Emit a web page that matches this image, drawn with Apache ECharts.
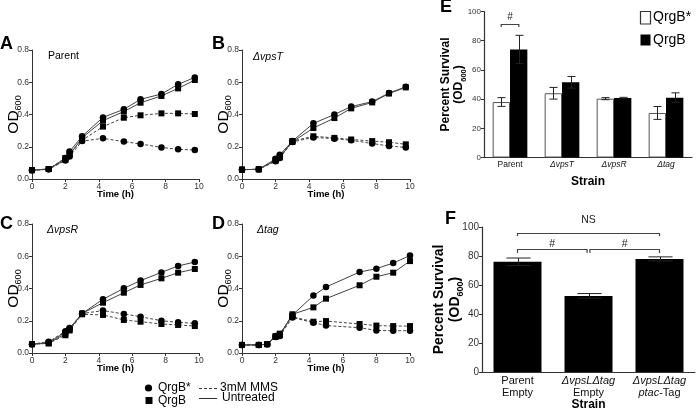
<!DOCTYPE html>
<html><head><meta charset="utf-8">
<script src="https://cdn.jsdelivr.net/npm/echarts@6/dist/echarts.min.js"></script>
<style>html,body{margin:0;padding:0;background:#fff}#c{width:696px;height:414px}</style>
</head><body><div id="c"></div>
<script>
// ---------- data ----------
const timeABC = [0, 1, 2, 2.25, 3, 4.25, 5.5, 6.5, 7.75, 8.75, 9.75];
const timeD = [0, 1, 1.5, 2, 2.25, 3, 4.25, 5, 7, 8, 9, 10];

// Panel A (Parent)
const A_starU = [0.055, 0.06, 0.13, 0.17, 0.265, 0.382, 0.432, 0.494, 0.527, 0.587, 0.63];
const A_qU    = [0.055, 0.062, 0.12, 0.15, 0.255, 0.362, 0.418, 0.473, 0.515, 0.562, 0.614];
const A_starM = [0.055, 0.06, 0.115, 0.14, 0.235, 0.252, 0.232, 0.217, 0.196, 0.184, 0.18];
const A_qM    = [0.055, 0.062, 0.13, 0.16, 0.24, 0.325, 0.38, 0.395, 0.407, 0.407, 0.403];
// Panel B (ΔvpsT)
const B_starU = [0.058, 0.06, 0.125, 0.15, 0.235, 0.345, 0.40, 0.449, 0.48, 0.533, 0.572];
const B_qU    = [0.058, 0.06, 0.115, 0.135, 0.23, 0.316, 0.378, 0.438, 0.475, 0.53, 0.568];
const B_starM = [0.058, 0.06, 0.11, 0.13, 0.23, 0.258, 0.25, 0.24, 0.22, 0.205, 0.195];
const B_qM    = [0.058, 0.06, 0.12, 0.14, 0.235, 0.265, 0.255, 0.245, 0.235, 0.228, 0.215];
// Panel C (ΔvpsR)
const C_starU = [0.055, 0.065, 0.13, 0.15, 0.245, 0.333, 0.401, 0.449, 0.50, 0.54, 0.564];
const C_qU    = [0.055, 0.06, 0.12, 0.145, 0.245, 0.312, 0.374, 0.422, 0.463, 0.498, 0.521];
const C_starM = [0.055, 0.07, 0.135, 0.155, 0.245, 0.263, 0.242, 0.225, 0.20, 0.19, 0.184];
const C_qM    = [0.055, 0.06, 0.11, 0.14, 0.24, 0.236, 0.205, 0.194, 0.18, 0.174, 0.167];
// Panel D (Δtag)
const D_starU = [0.05, 0.05, 0.055, 0.105, 0.115, 0.235, 0.356, 0.409, 0.502, 0.523, 0.558, 0.604];
const D_qU    = [0.05, 0.05, 0.055, 0.10, 0.11, 0.24, 0.283, 0.337, 0.42, 0.473, 0.498, 0.57];
const D_starM = [0.05, 0.05, 0.055, 0.10, 0.105, 0.22, 0.188, 0.17, 0.157, 0.14, 0.138, 0.138];
const D_qM    = [0.05, 0.05, 0.055, 0.105, 0.12, 0.225, 0.194, 0.198, 0.18, 0.17, 0.167, 0.167];

const odTicks = [0, 0.2, 0.4, 0.6, 0.8];
const timeTicks = [0, 2, 4, 6, 8, 10];
const pctTicks = [0, 20, 40, 60, 80, 100];

// Panel E
const E_cats = ['Parent', 'ΔvpsT', 'ΔvpsR', 'Δtag'];
const E_star = [38, 44, 40.3, 30.5];
const E_starErr = [3, 4, 0.7, 4.4];
const E_q = [74, 51.5, 40.7, 41];
const E_qErr = [9.7, 4, 0.5, 3.3];
// bracket: [catFrom, offFrom, catTo, offTo, value, legEndValue, labelValue]
const E_brackets = [[0, -0.17, 0, 0.17, 91.6, 89.3, 96]];
const E_bracketLabels = ['#'];

// Panel F
const F_cats = ['Parent Empty', 'ΔvpsLΔtag Empty', 'ΔvpsLΔtag ptac-Tag'];
const F_vals = [76, 52.5, 78];
const F_err = [2.6, 1.6, 1.4];
const F_brackets = [[0, 0, 2, 0, 96.1, 93.8, 104.8], [0, 0, 1, -0.02, 84.6, 82, 88.3], [1, 0.02, 2, 0, 84.6, 82, 88.3]];
const F_bracketLabels = ['NS', '#', '#'];

// ---------- chart ----------
const FONT = 'Liberation Sans, Arial, Helvetica, sans-serif';
const AX = '#333';
const chart = echarts.init(document.getElementById('c'));

const lineGrids = [
  {left: 32, top: 50, width: 167, height: 129},
  {left: 242, top: 50, width: 168, height: 129},
  {left: 32, top: 224, width: 167, height: 129},
  {left: 242, top: 224, width: 168, height: 129}
];
const grids = lineGrids.concat([
  {left: 484, top: 11.5, width: 208, height: 146},
  {left: 482, top: 227, width: 213, height: 145}
]);

const odName = {
  name: '{a|OD}{b|600}', nameLocation: 'middle', nameRotate: 90, nameGap: 9, nameMoveOverlap: false,
  nameTextStyle: {rich: {
    a: {fontSize: 15.5, fontFamily: FONT, color: '#000', lineHeight: 17, verticalAlign: 'top'},
    b: {fontSize: 9, fontFamily: FONT, color: '#000', lineHeight: 9, padding: [9, 0, 0, 0], verticalAlign: 'bottom'}
  }}
};

const xAxes = [], yAxes = [];
for (let k = 0; k < 4; k++) {
  xAxes.push({
    type: 'value', gridIndex: k, min: timeTicks[0], max: timeTicks[timeTicks.length - 1],
    interval: timeTicks[1] - timeTicks[0],
    axisLine: {show: true, onZero: false, lineStyle: {color: AX, width: 1}},
    axisTick: {show: true, length: 3, lineStyle: {color: AX}},
    axisLabel: {fontSize: 8.5, color: '#333', margin: 3, fontFamily: FONT},
    splitLine: {show: false},
    name: 'Time (h)', nameLocation: 'middle', nameGap: 10, nameMoveOverlap: false,
    nameTextStyle: {fontWeight: 'bold', fontSize: 9.5, color: '#000', fontFamily: FONT}
  });
  yAxes.push(Object.assign({
    type: 'value', gridIndex: k, min: odTicks[0], max: odTicks[odTicks.length - 1],
    interval: odTicks[1] - odTicks[0],
    axisLine: {show: true, onZero: false, lineStyle: {color: AX, width: 1}},
    axisTick: {show: true, length: 3, lineStyle: {color: AX}},
    axisLabel: {fontSize: 8.5, color: '#333', margin: 3, fontFamily: FONT, formatter: v => v.toFixed(1)},
    splitLine: {show: false}
  }, odName));
}
// E axes
xAxes.push({
  type: 'category', gridIndex: 4, data: E_cats,
  axisLine: {show: true, lineStyle: {color: AX, width: 1.2}},
  axisTick: {show: false},
  axisLabel: {fontSize: 8.5, color: '#111', margin: 3, fontFamily: FONT, interval: 0,
    formatter: v => v.charAt(0) === 'Δ' ? '{i|' + v + '}' : v,
    rich: {i: {fontStyle: 'italic', fontSize: 8.5, fontFamily: FONT, color: '#111'}}},
  name: 'Strain', nameLocation: 'middle', nameGap: 18, nameMoveOverlap: false,
  nameTextStyle: {fontWeight: 'bold', fontSize: 12, color: '#000', fontFamily: FONT}
});
yAxes.push({
  type: 'value', gridIndex: 4, min: pctTicks[0], max: pctTicks[pctTicks.length - 1], interval: pctTicks[1] - pctTicks[0],
  axisLine: {show: true, lineStyle: {color: AX, width: 1.2}},
  axisTick: {show: true, length: 3, lineStyle: {color: AX}},
  axisLabel: {fontSize: 8, color: '#333', margin: 3, fontFamily: FONT},
  splitLine: {show: false},
  name: 'Percent Survival\n{a|(OD}{b|600}{a|)}', nameLocation: 'middle', nameRotate: 90, nameGap: 16, nameMoveOverlap: false,
  nameTextStyle: {fontWeight: 'bold', fontSize: 12, lineHeight: 15, color: '#000', fontFamily: FONT,
    rich: {
      a: {fontWeight: 'bold', fontSize: 12, lineHeight: 15, fontFamily: FONT, color: '#000', verticalAlign: 'top'},
      b: {fontWeight: 'bold', fontSize: 7.5, lineHeight: 8, padding: [7, 0, 0, 0], fontFamily: FONT, color: '#000', verticalAlign: 'bottom'}
    }}
});
// F axes
xAxes.push({
  type: 'category', gridIndex: 5, data: F_cats,
  axisLine: {show: true, lineStyle: {color: AX, width: 1.2}},
  axisTick: {show: false},
  axisLabel: {fontSize: 11, lineHeight: 12, color: '#111', margin: 3, fontFamily: FONT, interval: 0,
    formatter: v => v.split(' ').map(w => {
      if (w.charAt(0) === 'Δ') return '{i|' + w + '}';
      if (w.indexOf('ptac') === 0) return '{i|ptac}' + w.slice(4);
      return w;
    }).join('\n'),
    rich: {i: {fontStyle: 'italic', fontSize: 11, lineHeight: 12, fontFamily: FONT, color: '#111'}}},
  name: 'Strain', nameLocation: 'middle', nameGap: 27, nameMoveOverlap: false,
  nameTextStyle: {fontWeight: 'bold', fontSize: 12, color: '#000', fontFamily: FONT}
});
yAxes.push({
  type: 'value', gridIndex: 5, min: pctTicks[0], max: pctTicks[pctTicks.length - 1], interval: pctTicks[1] - pctTicks[0],
  axisLine: {show: true, lineStyle: {color: AX, width: 1.2}},
  axisTick: {show: true, length: 3, lineStyle: {color: AX}},
  axisLabel: {fontSize: 10, color: '#333', margin: 3, fontFamily: FONT},
  splitLine: {show: false},
  name: 'Percent Survival\n{a|(OD}{b|600}{a|)}', nameLocation: 'middle', nameRotate: 90, nameGap: 17, nameMoveOverlap: false,
  nameTextStyle: {fontWeight: 'bold', fontSize: 14, lineHeight: 17, color: '#000', fontFamily: FONT,
    rich: {
      a: {fontWeight: 'bold', fontSize: 14, lineHeight: 17, fontFamily: FONT, color: '#000', verticalAlign: 'top'},
      b: {fontWeight: 'bold', fontSize: 9, lineHeight: 9, padding: [8, 0, 0, 0], fontFamily: FONT, color: '#000', verticalAlign: 'bottom'}
    }}
});

// line series
const panels = [
  {t: timeABC, su: A_starU, qu: A_qU, sm: A_starM, qm: A_qM},
  {t: timeABC, su: B_starU, qu: B_qU, sm: B_starM, qm: B_qM},
  {t: timeABC, su: C_starU, qu: C_qU, sm: C_starM, qm: C_qM},
  {t: timeD, su: D_starU, qu: D_qU, sm: D_starM, qm: D_qM}
];
const series = [];
panels.forEach((p, k) => {
  [['sm', 'circle', [3, 2]], ['qm', 'rect', [3, 2]], ['su', 'circle', 'solid'], ['qu', 'rect', 'solid']].forEach(s => {
    series.push({
      type: 'line', xAxisIndex: k, yAxisIndex: k,
      data: p.t.map((t, i) => [t, p[s[0]][i]]),
      symbol: s[1], symbolSize: s[1] === 'circle' ? 6.5 : 6,
      itemStyle: {color: '#000'},
      lineStyle: {color: '#444', width: 1, type: s[2]},
      showSymbol: true, silent: true
    });
  });
});

// error bar renderer
function errRender(offFrac, capFrac) {
  return function (params, api) {
    const i = api.value(0), v = api.value(1), e = api.value(2);
    const band = api.size([1, 0])[0];
    const x = Math.round(api.coord([i, v])[0] + offFrac * band) + 0.5;
    const yt = api.coord([i, v + e])[1];
    const yb = api.coord([i, v - e])[1];
    const w = capFrac * band;
    const st = {stroke: '#222', lineWidth: 1};
    return {type: 'group', children: [
      {type: 'line', shape: {x1: x, y1: yt, x2: x, y2: yb}, style: st},
      {type: 'line', shape: {x1: x - w / 2, y1: yt, x2: x + w / 2, y2: yt}, style: st},
      {type: 'line', shape: {x1: x - w / 2, y1: yb, x2: x + w / 2, y2: yb}, style: st}
    ]};
  };
}
function bracketRender(labels, fontSize) {
  return function (params, api) {
    const band = api.size([1, 0])[0];
    const xa = api.coord([api.value(0), 0])[0] + api.value(1) * band;
    const xb = api.coord([api.value(2), 0])[0] + api.value(3) * band;
    const y = Math.round(api.coord([0, api.value(4)])[1]) + 0.5;
    const y2 = api.coord([0, api.value(5)])[1];
    const yl = api.coord([0, api.value(6)])[1];
    const st = {stroke: '#444', lineWidth: 1.2, fill: 'none'};
    return {type: 'group', children: [
      {type: 'polyline', shape: {points: [[xa, y2], [xa, y], [xb, y], [xb, y2]]}, style: st},
      {type: 'text', x: (xa + xb) / 2, y: yl, style: {text: labels[params.dataIndex], fill: '#222',
        font: fontSize + 'px ' + FONT, align: 'center', verticalAlign: 'middle',
        textAlign: 'center', textVerticalAlign: 'middle'}}
    ]};
  };
}

// E bars
series.push({type: 'bar', xAxisIndex: 4, yAxisIndex: 4, data: E_star, barGap: '0%', barCategoryGap: '33.3%',
  itemStyle: {color: '#fff', borderColor: '#555', borderWidth: 1}, silent: true});
series.push({type: 'bar', xAxisIndex: 4, yAxisIndex: 4, data: E_q, barGap: '0%', barCategoryGap: '33.3%',
  itemStyle: {color: '#000'}, silent: true});
series.push({type: 'custom', xAxisIndex: 4, yAxisIndex: 4, renderItem: errRender(-1 / 6, 0.155),
  data: E_star.map((v, i) => [i, v, E_starErr[i]]), encode: {x: 0, y: 1}, z: 5, silent: true});
series.push({type: 'custom', xAxisIndex: 4, yAxisIndex: 4, renderItem: errRender(1 / 6, 0.155),
  data: E_q.map((v, i) => [i, v, E_qErr[i]]), encode: {x: 0, y: 1}, z: 5, silent: true});
series.push({type: 'custom', xAxisIndex: 4, yAxisIndex: 4, renderItem: bracketRender(E_bracketLabels, 10),
  data: E_brackets, encode: {x: 0, y: 4}, z: 6, silent: true, clip: false});
// F bars
series.push({type: 'bar', xAxisIndex: 5, yAxisIndex: 5, data: F_vals, barCategoryGap: '32.4%',
  itemStyle: {color: '#000'}, silent: true});
series.push({type: 'custom', xAxisIndex: 5, yAxisIndex: 5, renderItem: errRender(0, 0.34),
  data: F_vals.map((v, i) => [i, v, F_err[i]]), encode: {x: 0, y: 1}, z: 5, silent: true});
series.push({type: 'custom', xAxisIndex: 5, yAxisIndex: 5, renderItem: bracketRender(F_bracketLabels, 10.5),
  data: F_brackets, encode: {x: 0, y: 4}, z: 6, silent: true, clip: false});

// graphic: panel letters, panel names, legends
function txt(x, y, text, font, align, extra) {
  return Object.assign({type: 'text', x: x, y: y, silent: true,
    style: {text: text, font: font, fill: '#000', align: align || 'left', verticalAlign: 'middle',
      textAlign: align || 'left', textVerticalAlign: 'middle'}}, extra || {});
}
const BIG = 'bold 18px ' + FONT;
const graphic = [
  txt(0, 44, 'A', BIG), txt(212, 44, 'B', BIG), txt(0, 224, 'C', BIG), txt(212, 224, 'D', BIG),
  txt(440, 7, 'E', BIG), txt(445, 219, 'F', BIG),
  txt(48, 56, 'Parent', '10.5px ' + FONT),
  txt(253, 57, 'ΔvpsT', 'italic 10.5px ' + FONT),
  txt(47, 230, 'ΔvpsR', 'italic 10.5px ' + FONT),
  txt(257, 230, 'Δtag', 'italic 10.5px ' + FONT),
  // bottom legend
  {type: 'circle', shape: {cx: 148.5, cy: 388, r: 3.6}, style: {fill: '#000'}, silent: true},
  txt(158, 388, 'QrgB*', '12px ' + FONT),
  {type: 'line', shape: {x1: 199, y1: 388.5, x2: 217, y2: 388.5}, style: {stroke: '#333', lineWidth: 1, lineDash: [3, 2]}, silent: true},
  txt(220, 388, '3mM MMS', '12px ' + FONT),
  {type: 'rect', shape: {x: 145.5, y: 397, width: 7, height: 7}, style: {fill: '#000'}, silent: true},
  txt(158, 401, 'QrgB', '12px ' + FONT),
  {type: 'line', shape: {x1: 199, y1: 398.5, x2: 217, y2: 398.5}, style: {stroke: '#333', lineWidth: 1}, silent: true},
  txt(222, 398, 'Untreated', '12px ' + FONT),
  // E legend
  {type: 'rect', shape: {x: 640.5, y: 11.5, width: 10, height: 12.5}, style: {fill: '#fff', stroke: '#333', lineWidth: 1.2}, silent: true},
  txt(653, 17.5, 'QrgB*', '14px ' + FONT),
  {type: 'rect', shape: {x: 640.5, y: 34.5, width: 10, height: 11}, style: {fill: '#000'}, silent: true},
  txt(653, 40, 'QrgB', '14px ' + FONT)
];

chart.setOption({
  animation: false,
  backgroundColor: '#fff',
  textStyle: {fontFamily: FONT},
  grid: grids,
  xAxis: xAxes,
  yAxis: yAxes,
  series: series,
  graphic: graphic
});
</script>
</body></html>
